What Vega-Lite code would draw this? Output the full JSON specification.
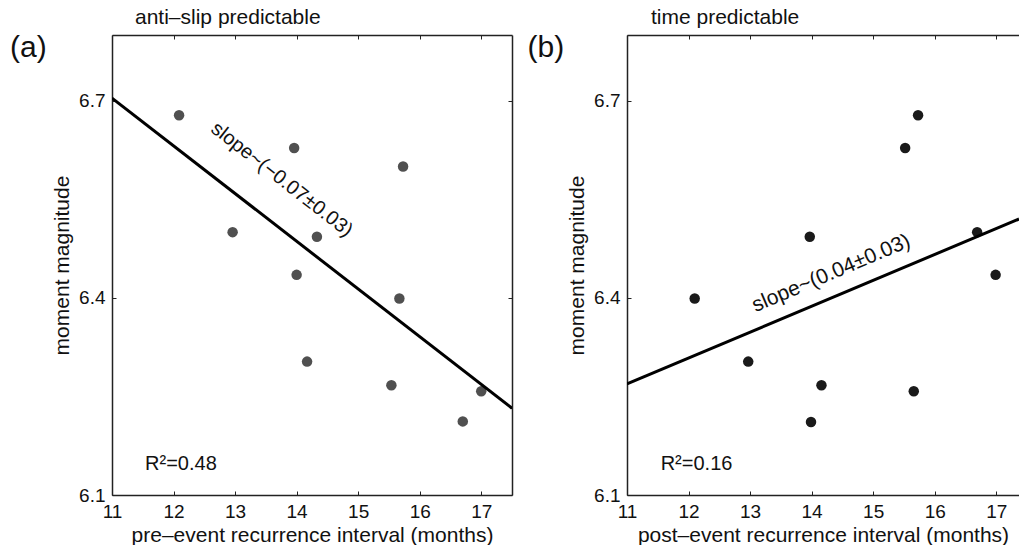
{
  "$schema": "https://vega.github.io/schema/vega-lite/v6.json",
  "background": "white",
  "padding": {"left": 10, "top": 7, "right": 0, "bottom": 0},
  "spacing": 115,
  "bounds": "flush",
  "config": {
    "font": "Liberation Sans",
    "view": {"stroke": null},
    "axis": {
      "grid": false,
      "domainColor": "#222",
      "domainWidth": 1.5,
      "tickColor": "#222",
      "tickWidth": 1,
      "tickSize": -4,
      "labelFontSize": 19,
      "labelColor": "#111",
      "labelFlush": false,
      "labelOverlap": false,
      "labelPadding": 11,
      "titleFontSize": 21,
      "titleFontWeight": "normal",
      "titleColor": "#111"
    },
    "title": {"fontSize": 21, "fontWeight": "normal", "color": "#111", "anchor": "start", "frame": "group"}
  },
  "datasets": {
    "pre": [
      {"interval": 12.09, "magnitude": 6.678},
      {"interval": 13.96, "magnitude": 6.628},
      {"interval": 15.73, "magnitude": 6.600},
      {"interval": 12.96, "magnitude": 6.500},
      {"interval": 14.33, "magnitude": 6.493},
      {"interval": 14.00, "magnitude": 6.435},
      {"interval": 15.67, "magnitude": 6.399},
      {"interval": 14.17, "magnitude": 6.303},
      {"interval": 15.54, "magnitude": 6.267},
      {"interval": 17.00, "magnitude": 6.258},
      {"interval": 16.70, "magnitude": 6.212}
    ],
    "post": [
      {"interval": 15.73, "magnitude": 6.678},
      {"interval": 15.52, "magnitude": 6.628},
      {"interval": 13.97, "magnitude": 6.493},
      {"interval": 16.69, "magnitude": 6.500},
      {"interval": 16.99, "magnitude": 6.435},
      {"interval": 12.10, "magnitude": 6.399},
      {"interval": 12.97, "magnitude": 6.303},
      {"interval": 14.16, "magnitude": 6.267},
      {"interval": 15.66, "magnitude": 6.258},
      {"interval": 13.99, "magnitude": 6.211}
    ],
    "preFit": [
      {"interval": 11, "magnitude": 6.704},
      {"interval": 17.5, "magnitude": 6.232}
    ],
    "postFit": [
      {"interval": 11, "magnitude": 6.269},
      {"interval": 17.37, "magnitude": 6.520}
    ]
  },
  "hconcat": [
    {
      "width": 400,
      "height": 460,
      "title": {"text": "anti–slip predictable", "dx": 23, "offset": -16, "baseline": "bottom"},
      "resolve": {"axis": {"x": "independent", "y": "independent"}},
      "layer": [
        {
          "data": {"name": "pre"},
          "mark": {"type": "circle", "size": 110, "color": "#505050", "opacity": 1},
          "encoding": {
            "x": {"field": "interval", "type": "quantitative",
              "scale": {"domain": [11, 17.5], "nice": false, "zero": false},
              "axis": {"orient": "bottom", "values": [11, 12, 13, 14, 15, 16, 17], "labelPadding": 11, "title": "pre–event recurrence interval (months)", "titlePadding": 3}},
            "y": {"field": "magnitude", "type": "quantitative",
              "scale": {"domain": [6.1, 6.8], "nice": false, "zero": false},
              "axis": {"orient": "left", "values": [6.1, 6.4, 6.7], "format": ".1f", "title": "moment magnitude", "titlePadding": 6}}
          }
        },
        {
          "data": {"name": "preFit"},
          "mark": {"type": "line", "color": "#000", "strokeWidth": 3, "clip": true},
          "encoding": {
            "x": {"field": "interval", "type": "quantitative",
              "axis": {"orient": "top", "values": [11, 12, 13, 14, 15, 16, 17], "labels": false, "title": null}},
            "y": {"field": "magnitude", "type": "quantitative",
              "axis": {"orient": "right", "values": [6.1, 6.4, 6.7], "labels": false, "title": null}}
          }
        },
        {
          "data": {"values": [{"label": "slope~(−0.07±0.03)", "interval": 13.76, "magnitude": 6.58}]},
          "mark": {"type": "text", "angle": 38, "fontSize": 20, "align": "center", "baseline": "middle", "color": "#111"},
          "encoding": {
            "x": {"field": "interval", "type": "quantitative", "axis": null},
            "y": {"field": "magnitude", "type": "quantitative", "axis": null},
            "text": {"field": "label"}
          }
        },
        {
          "data": {"values": [{"label": "R²=0.48", "interval": 12.12, "magnitude": 6.147}]},
          "mark": {"type": "text", "fontSize": 20, "align": "center", "baseline": "middle", "color": "#111"},
          "encoding": {
            "x": {"field": "interval", "type": "quantitative", "axis": null},
            "y": {"field": "magnitude", "type": "quantitative", "axis": null},
            "text": {"field": "label"}
          }
        },
        {
          "data": {"values": [{"label": "(a)", "interval": 9.343, "magnitude": 6.78}]},
          "mark": {"type": "text", "fontSize": 30, "align": "left", "baseline": "middle", "color": "#111"},
          "encoding": {
            "x": {"field": "interval", "type": "quantitative", "axis": null},
            "y": {"field": "magnitude", "type": "quantitative", "axis": null},
            "text": {"field": "label"}
          }
        }
      ]
    },
    {
      "width": 392,
      "height": 460,
      "title": {"text": "time predictable", "dx": 24, "offset": -16, "baseline": "bottom"},
      "resolve": {"axis": {"x": "independent", "y": "independent"}},
      "layer": [
        {
          "data": {"name": "post"},
          "mark": {"type": "circle", "size": 110, "color": "#1a1a1a", "opacity": 1},
          "encoding": {
            "x": {"field": "interval", "type": "quantitative",
              "scale": {"domain": [11, 17.37], "nice": false, "zero": false},
              "axis": {"orient": "bottom", "values": [11, 12, 13, 14, 15, 16, 17], "labelPadding": 11, "title": "post–event recurrence interval (months)", "titlePadding": 3}},
            "y": {"field": "magnitude", "type": "quantitative",
              "scale": {"domain": [6.1, 6.8], "nice": false, "zero": false},
              "axis": {"orient": "left", "values": [6.1, 6.4, 6.7], "format": ".1f", "title": "moment magnitude", "titlePadding": 6}}
          }
        },
        {
          "data": {"name": "postFit"},
          "mark": {"type": "line", "color": "#000", "strokeWidth": 3, "clip": true},
          "encoding": {
            "x": {"field": "interval", "type": "quantitative",
              "axis": {"orient": "top", "values": [11, 12, 13, 14, 15, 16, 17], "labels": false, "title": null}},
            "y": {"field": "magnitude", "type": "quantitative", "axis": null}
          }
        },
        {
          "data": {"values": [{"label": "slope~(0.04±0.03)", "interval": 14.32, "magnitude": 6.437}]},
          "mark": {"type": "text", "angle": -23, "fontSize": 21, "align": "center", "baseline": "middle", "color": "#111"},
          "encoding": {
            "x": {"field": "interval", "type": "quantitative", "axis": null},
            "y": {"field": "magnitude", "type": "quantitative", "axis": null},
            "text": {"field": "label"}
          }
        },
        {
          "data": {"values": [{"label": "R²=0.16", "interval": 12.13, "magnitude": 6.147}]},
          "mark": {"type": "text", "fontSize": 20, "align": "center", "baseline": "middle", "color": "#111"},
          "encoding": {
            "x": {"field": "interval", "type": "quantitative", "axis": null},
            "y": {"field": "magnitude", "type": "quantitative", "axis": null},
            "text": {"field": "label"}
          }
        },
        {
          "data": {"values": [{"label": "(b)", "interval": 9.385, "magnitude": 6.78}]},
          "mark": {"type": "text", "fontSize": 30, "align": "left", "baseline": "middle", "color": "#111"},
          "encoding": {
            "x": {"field": "interval", "type": "quantitative", "axis": null},
            "y": {"field": "magnitude", "type": "quantitative", "axis": null},
            "text": {"field": "label"}
          }
        }
      ]
    }
  ]
}
